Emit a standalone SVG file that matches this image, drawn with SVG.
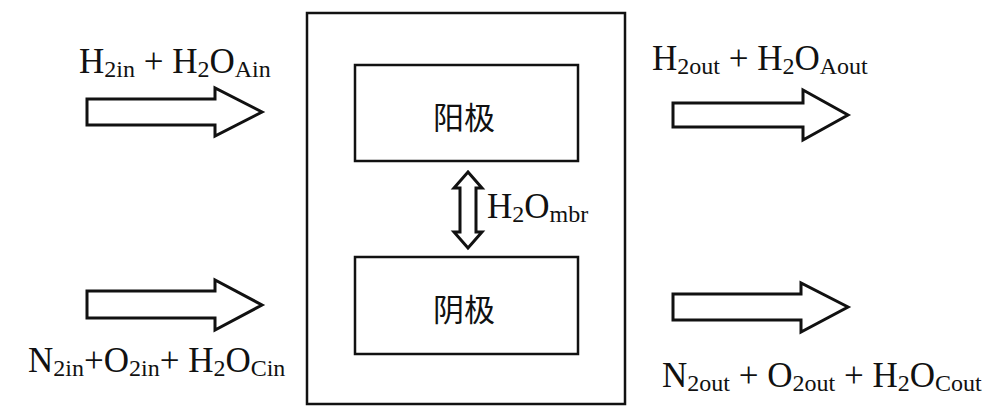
<svg xmlns="http://www.w3.org/2000/svg" width="1002" height="420" viewBox="0 0 1002 420">
<style>
.box{fill:none;stroke:#111;stroke-width:2.5}
.arr{fill:#fff;stroke:#111;stroke-width:3;stroke-linejoin:miter}
.lbl{font-family:"Liberation Serif","DejaVu Serif",serif;font-size:35px;fill:#111}
.sub{font-size:24px}
.cjk{font-family:"Noto Sans CJK SC",sans-serif;font-size:31px;fill:#111;text-anchor:middle;font-weight:400}
</style>
<rect width="1002" height="420" fill="#fff"/>
<g id="cell"><rect class="box" x="307" y="13" width="318" height="391"/></g>
<g id="anode"><rect class="box" x="355" y="65" width="223" height="96"/><text class="cjk" x="464" y="129">阳极</text></g>
<g id="cathode"><rect class="box" x="355" y="257" width="223" height="97"/><text class="cjk" x="464" y="321">阴极</text></g>
<g id="connectors">
<path class="arr" d="M87,99 L215,99 L215,88 L262,112 L215,136 L215,125 L87,125 Z"/>
<path class="arr" d="M673,103 L803,103 L803,90 L848,115 L803,140 L803,127 L673,127 Z"/>
<path class="arr" d="M87,291 L215,291 L215,280 L262,305 L215,330 L215,318 L87,318 Z"/>
<path class="arr" d="M673,294 L801,294 L801,283 L848,307 L801,332 L801,320 L673,320 Z"/>
<path class="arr" d="M468,172 L482,188 L476,188 L476,232 L482,232 L468,248 L454,232 L460,232 L460,188 L454,188 Z"/>
</g>
<g id="labels">
<text class="lbl" x="79" y="73">H<tspan class="sub" dy="4">2in</tspan><tspan dy="-4"> + H</tspan><tspan class="sub" dy="4">2</tspan><tspan dy="-4">O</tspan><tspan class="sub" dy="4">Ain</tspan></text>
<text class="lbl" x="652" y="70">H<tspan class="sub" dy="4">2out</tspan><tspan dy="-4"> + H</tspan><tspan class="sub" dy="4">2</tspan><tspan dy="-4">O</tspan><tspan class="sub" dy="4">Aout</tspan></text>
<text class="lbl" x="28" y="372">N<tspan class="sub" dy="4">2in</tspan><tspan dy="-4">+O</tspan><tspan class="sub" dy="4">2in</tspan><tspan dy="-4">+ H</tspan><tspan class="sub" dy="4">2</tspan><tspan dy="-4">O</tspan><tspan class="sub" dy="4">Cin</tspan></text>
<text class="lbl" x="662" y="387">N<tspan class="sub" dy="4">2out</tspan><tspan dy="-4"> + O</tspan><tspan class="sub" dy="4">2out</tspan><tspan dy="-4"> + H</tspan><tspan class="sub" dy="4">2</tspan><tspan dy="-4">O</tspan><tspan class="sub" dy="4">Cout</tspan></text>
<text class="lbl" x="487" y="218">H<tspan class="sub" dy="4">2</tspan><tspan dy="-4">O</tspan><tspan class="sub" dy="4">mbr</tspan></text>
</g>
</svg>
